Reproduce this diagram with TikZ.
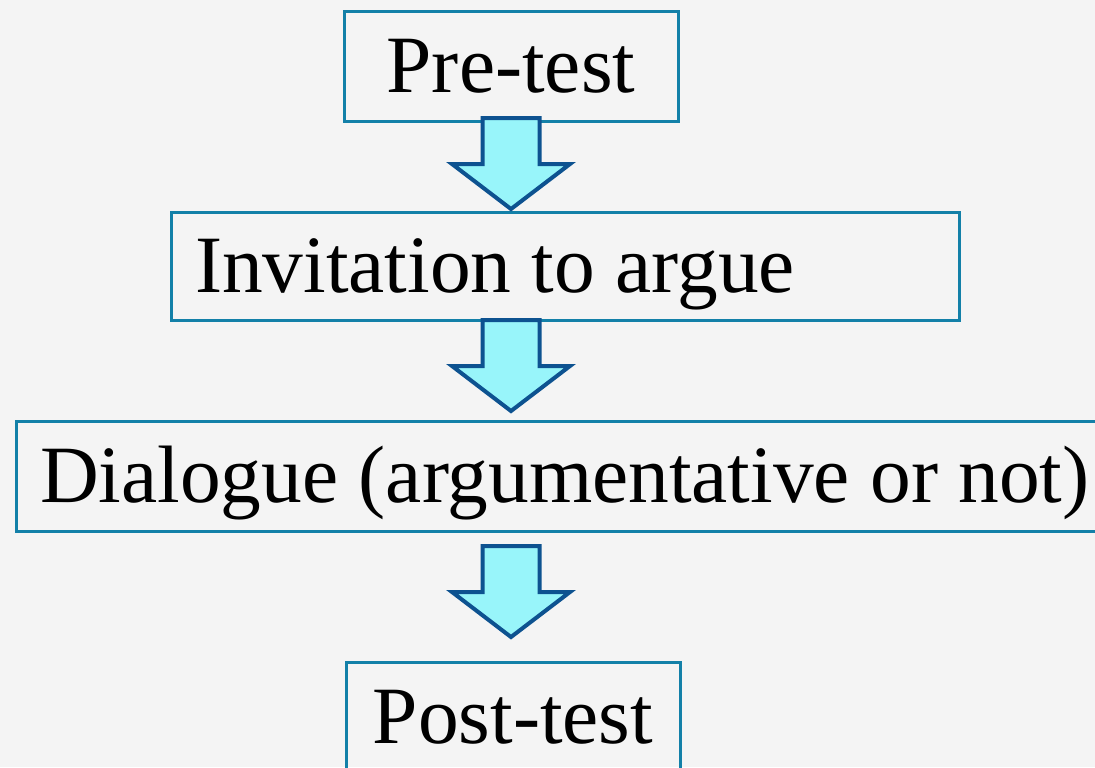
\documentclass[tikz,border=0pt]{standalone}
\usepackage{fontspec}
\setmainfont{Liberation Serif}
\usetikzlibrary{positioning}
\definecolor{boxblue}{HTML}{1380A8}
\definecolor{arrowblue}{HTML}{0D5290}
\definecolor{arrowfill}{HTML}{98F5FA}
\definecolor{paper}{HTML}{F4F4F4}
\tikzset{
    stage/.style={draw=boxblue, line width=1.5pt, anchor=north west, outer sep=0pt,
        inner xsep=12pt, inner ysep=0pt, text height=26pt, text depth=0pt,
        minimum height=55pt, font=\fontsize{40.7}{46}\selectfont},
    bigarrow/.style={draw=arrowblue, fill=arrowfill, line width=2pt, line join=miter},
}
\begin{document}
\begin{tikzpicture}[x=0.5pt, y=-0.5pt]
\useasboundingbox (0,0) rectangle (1095,767);
\fill[paper] (0,0) rectangle (1095,767);
\clip (0,0) rectangle (1095,767);
\node[stage, minimum width=167pt] (pretest) at (344,11) {Pre-test};
\node[stage, minimum width=394pt, minimum height=54pt] (invite) at (171,212) {\makebox[370pt][l]{Invitation to argue}};
\node[stage, minimum width=570pt] (dialogue) at (16,421) {\makebox[546pt][l]{Dialogue (argumentative or not)}};
\node[stage, minimum width=167pt] (posttest) at (346,662) {Post-test};
% block arrows between the stages
\foreach \a/\off in {pretest/-3, invite/0, dialogue/15} {
    \draw[bigarrow] (\a.south -| pretest.south) ++(0,\off) ++(-28.5,0) -- ++(57,0) -- ++(0,46)
        -- ++(30.5,0) -- ++(-59,45) -- ++(-59,-45) -- ++(30.5,0) -- cycle;
};
\end{tikzpicture}
\end{document}
